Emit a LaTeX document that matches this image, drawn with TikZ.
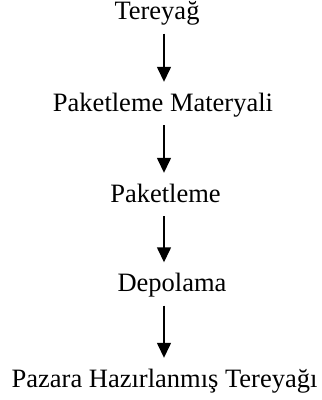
\documentclass[tikz,border=0pt]{standalone}
\usepackage{fontspec}
\setmainfont{Liberation Serif}
\usetikzlibrary{arrows.meta}
\begin{document}
\begin{tikzpicture}[x=1pt,y=-1pt,
  lbl/.style={anchor=base,inner sep=0pt,text height=18pt,text depth=6pt,font=\fontsize{26.5}{30}\selectfont},
  arr/.style={line width=1.4pt,-{Triangle[length=15pt,width=14pt]},shorten <=8pt,shorten >=11pt}]
\useasboundingbox (0,0) rectangle (322,400);
\coordinate (ax) at (164,0);
\node[lbl] (a) at (157,19.5) {Tereyağ};
\node[lbl] (b) at (163,111) {Paketleme Materyali};
\node[lbl] (c) at (165.5,202) {Paketleme};
\node[lbl] (d) at (172,291.5) {Depolama};
\node[lbl] (e) at (164.5,387) {Pazara Hazırlanmış Tereyağı};
\draw[arr] (a.south -| ax) -- (b.north -| ax);
\draw[arr] (b.south -| ax) -- (c.north -| ax);
\draw[arr] (c.south -| ax) -- (d.north -| ax);
\draw[arr] (d.south -| ax) -- (e.north -| ax);
\end{tikzpicture}
\end{document}
